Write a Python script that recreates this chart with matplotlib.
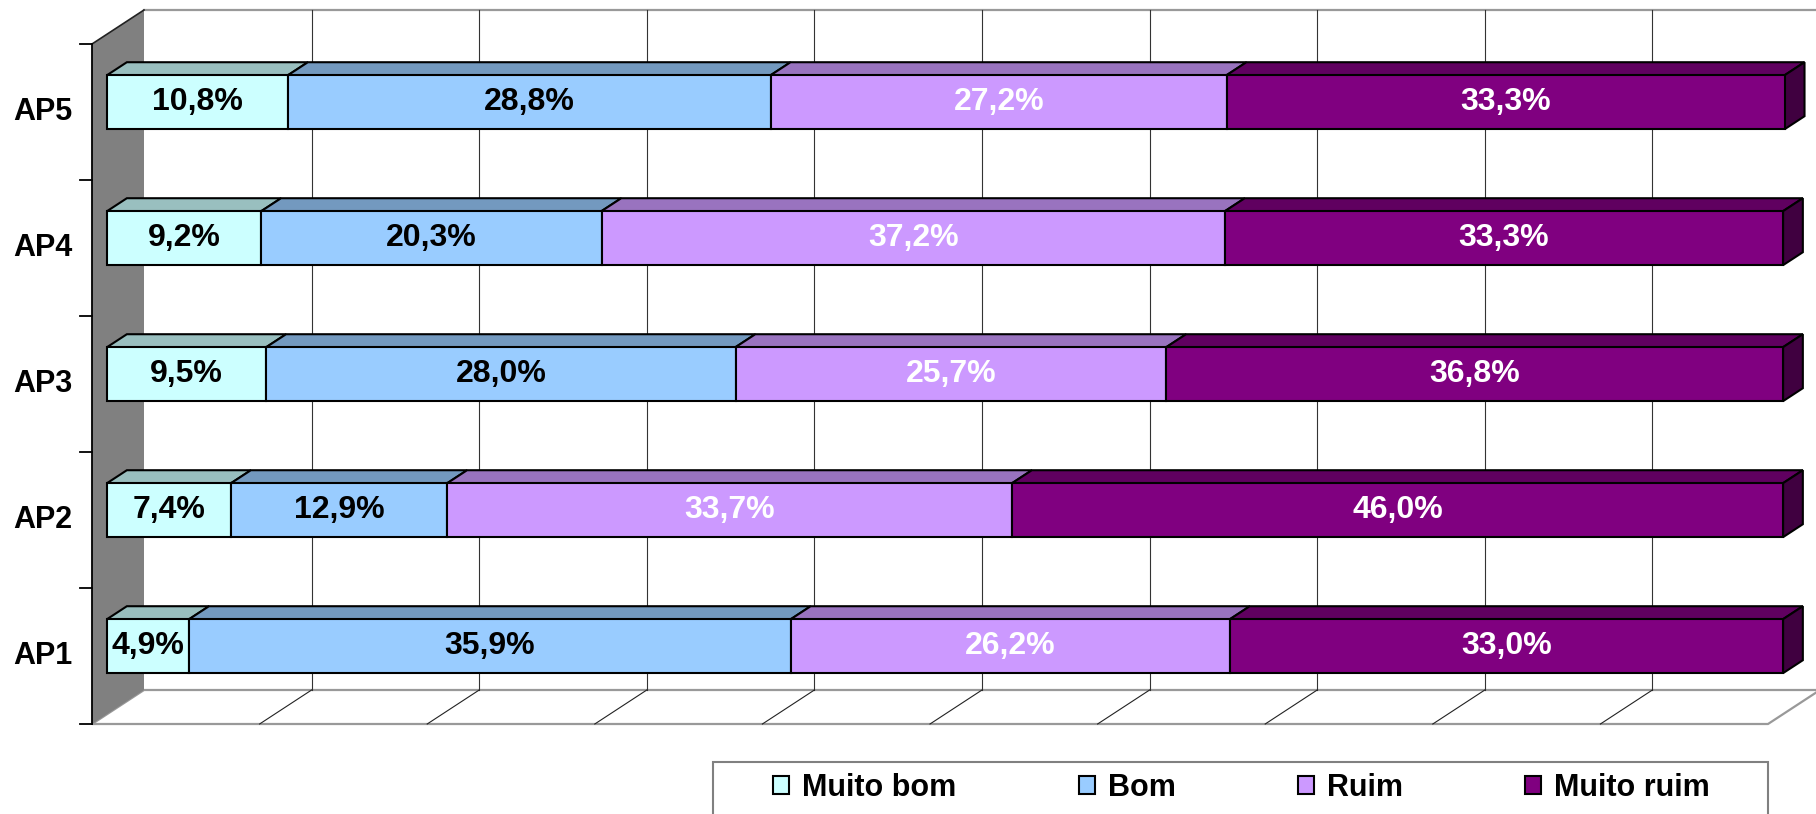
import numpy as np
import matplotlib.pyplot as plt
from matplotlib.patches import Polygon, Patch, Rectangle
from matplotlib.colors import to_rgb

categories = ['AP1', 'AP2', 'AP3', 'AP4', 'AP5']
series = ['Muito bom', 'Bom', 'Ruim', 'Muito ruim']
muito_bom = [4.9, 7.4, 9.5, 9.2, 10.8]
bom = [35.9, 12.9, 28.0, 20.3, 28.8]
ruim = [26.2, 33.7, 25.7, 37.2, 27.2]
muito_ruim = [33.0, 46.0, 36.8, 33.3, 33.3]
values = [muito_bom, bom, ruim, muito_ruim]

colors = ['#CCFFFF', '#99CCFF', '#CC99FF', '#800080']
text_colors = ['black', 'black', 'white', 'white']

plt.rcParams['font.family'] = ['Liberation Sans', 'DejaVu Sans']

W, H = 1816, 814
fig = plt.figure(figsize=(W / 100, H / 100), dpi=100)
ax = fig.add_axes([0, 0, 1, 1])
ax.axis('off')

# pixel scale of the front plane
px_x = 16.76     # px per percent
px_y = 136.0     # px per category
x0_px, y0_px = 92, 724
ax.set_xlim(-x0_px / px_x, (W - x0_px) / px_x)
ax.set_ylim(-(H - y0_px) / px_y, y0_px / px_y)

DX = 52 / px_x   # depth offset
DY = 34 / px_y
ncat = len(categories)


def P(x, y, d):
    return (x + d * DX, y + d * DY)


def shade(c, f):
    r, g, b = to_rgb(c)
    return (r * f, g * f, b * f)


# back wall and floor
ax.add_patch(Polygon([P(0, 0, 1), P(100, 0, 1), P(100, ncat, 1), P(0, ncat, 1)],
                     facecolor='white', edgecolor='none', zorder=1))
ax.plot([P(0, ncat, 1)[0], P(100, ncat, 1)[0] + 1], [P(0, ncat, 1)[1]] * 2,
        color='#999999', lw=1.6, zorder=2)
ax.add_patch(Polygon([P(0, 0, 0), P(100, 0, 0), P(100, 0, 1), P(0, 0, 1)],
                     facecolor='white', edgecolor='#999999', lw=1.6, zorder=2))

# gridlines
for g in range(10, 100, 10):
    xs, ys = zip(P(g, 0, 1), P(g, ncat, 1))
    ax.plot(xs, ys, color='#333333', lw=0.8, zorder=3)
    xs, ys = zip(P(g, 0, 0), P(g, 0, 1))
    ax.plot(xs, ys, color='#222222', lw=0.8, zorder=3)

# left wall
ax.add_patch(Polygon([P(0, 0, 0), P(0, ncat, 0), P(0, ncat, 1), P(0, 0, 1)],
                     facecolor='#808080', edgecolor='none', zorder=4))
xs, ys = zip(P(0, ncat, 0), P(0, ncat, 1))
ax.plot(xs, ys, color='#222222', lw=1.2, zorder=5)
ax.plot([0, 0], [0, ncat], color='black', lw=1.3, zorder=5)
for t in range(ncat + 1):
    ax.plot([-12 / px_x, 0], [t, t], color='black', lw=1.3, zorder=5)

# bars
bh = 54 / px_y
d0, d1 = 0.29, 0.67
for i, cat in enumerate(categories):
    yc = i + 0.5
    lo, hi = yc - bh / 2, yc + bh / 2
    left = 0.0
    for s in range(len(series)):
        v = values[s][i]
        right = left + v
        front = [P(left, lo, d0), P(right, lo, d0), P(right, hi, d0), P(left, hi, d0)]
        top = [P(left, hi, d0), P(right, hi, d0), P(right, hi, d1), P(left, hi, d1)]
        ax.add_patch(Polygon(top, facecolor=shade(colors[s], 0.75), edgecolor='black',
                             lw=1.5, joinstyle='miter', zorder=6))
        ax.add_patch(Polygon(front, facecolor=colors[s], edgecolor='black',
                             lw=1.5, joinstyle='miter', zorder=7))
        if s == len(series) - 1:
            side = [P(right, lo, d0), P(right, lo, d1), P(right, hi, d1), P(right, hi, d0)]
            ax.add_patch(Polygon(side, facecolor=shade(colors[s], 0.5), edgecolor='black',
                                 lw=1.5, joinstyle='miter', zorder=6))
        cx, cy = P((left + right) / 2, yc, d0)
        ax.text(cx, cy, f'{v:.1f}%'.replace('.', ','), ha='center', va='center',
                fontsize=23, fontweight='bold', color=text_colors[s], zorder=8)
        left = right
    ax.text(-20 / px_x, yc, cat, ha='right', va='center', fontsize=22,
            fontweight='bold', color='black')

# legend
fig.patches.append(Rectangle((713 / W, -0.05), (1768 - 713) / W, (H - 762) / H + 0.05,
                             transform=fig.transFigure, fill=False,
                             edgecolor='#808080', lw=1.5, clip_on=False))
handles = [Patch(facecolor=c, edgecolor='black', lw=1.5) for c in colors]
fig.legend(handles, series, loc='center left', bbox_to_anchor=(773 / W, (H - 788) / H),
           ncol=4, frameon=False, borderpad=0, borderaxespad=0,
           prop={'size': 22, 'weight': 'bold'}, handlelength=0.53, handleheight=0.53,
           handletextpad=0.42, columnspacing=4.0)

fig.savefig('out.png', dpi=100)
